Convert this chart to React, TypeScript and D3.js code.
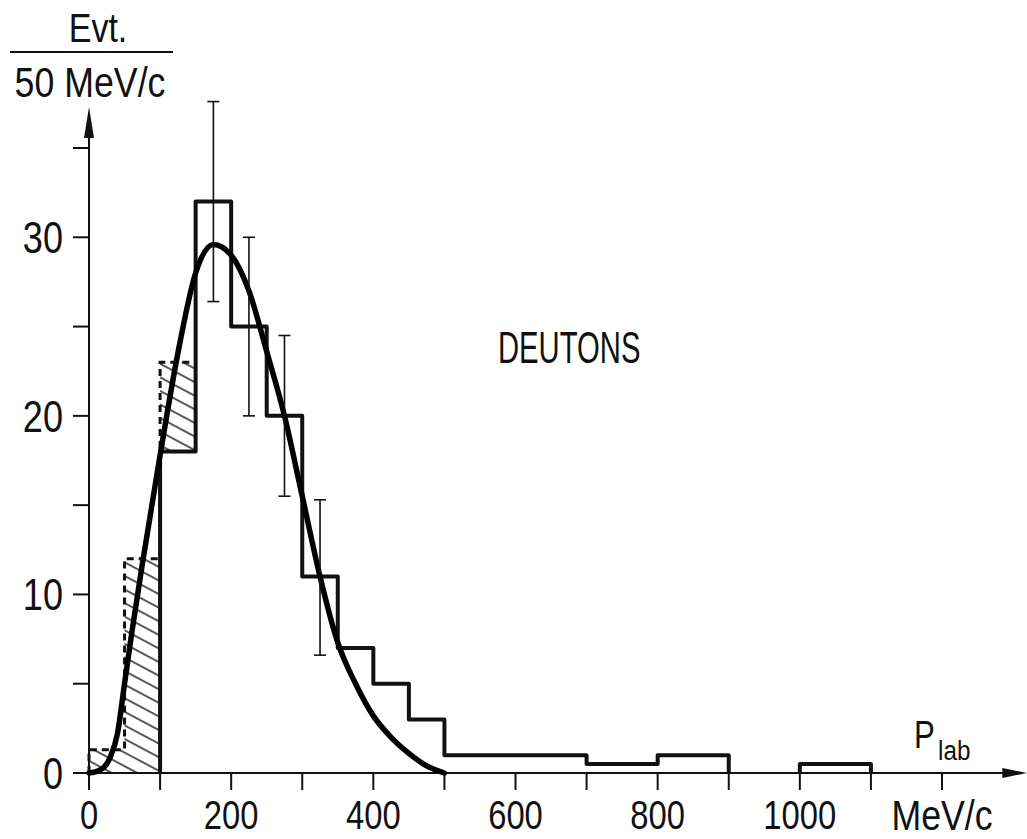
import * as d3 from 'd3'
import React from 'react'

// solid histogram (Evt. / 50 MeV/c)
const binLo = [100, 150, 200, 250, 300, 350, 400, 450, 500, 700, 800, 900, 1000]
const binHi = [150, 200, 250, 300, 350, 400, 450, 500, 700, 800, 900, 1000, 1100]
const evtCounts = [18, 32, 25, 20, 11, 7, 5, 3, 1, 0.5, 1, 0, 0.5]

// dashed (hatched) histogram
const dashLo = [0, 50, 100]
const dashHi = [50, 100, 150]
const dashCounts = [1.3, 12, 23]

// error bars
const errCenters = [175, 225, 275, 325]
const errLow = [26.4, 20, 15.5, 6.6]
const errHigh = [37.6, 30, 24.5, 15.3]

// fitted curve
const fitP = [0, 15, 30, 40, 50, 60, 75, 100, 125, 150, 175, 200, 225, 250, 275, 300, 325, 350, 375, 400, 425, 450, 475, 500]
const fitN = [0, 0.15, 0.9, 2.2, 5, 7.8, 11.7, 17.8, 23.5, 28, 29.6, 29, 27, 23.6, 20, 15.5, 11, 7.3, 5, 3.2, 2, 1.1, 0.4, 0]

const xTicks = [0, 100, 200, 300, 400, 500, 600, 700, 800, 900, 1000, 1100, 1200]
const xLabels = [0, 200, 400, 600, 800, 1000]
const yTicks = [0, 5, 10, 15, 20, 25, 30, 35]
const yLabels = [0, 10, 20, 30]

const FONT = "'Liberation Sans', Arial, sans-serif"

// narrow lettering, like the drafting stencil of the original
const Narrow = ({ x, y, size, sx = 0.8, anchor = 'start', children }:
  { x: number, y: number, size: number, sx?: number, anchor?: string, children: React.ReactNode }) =>
  <text transform={`translate(${x},${y}) scale(${sx},1)`} fontSize={size} textAnchor={anchor}>{children}</text>

export default function App() {
  const
    x = d3.scaleLinear().domain([0, 1200]).range([89, 942]),
    y = d3.scaleLinear().domain([0, 35]).range([773, 148]),
    xEnd = x(1320),
    yEnd = y(37.3)

  // solid histogram path, broken where bins are empty
  let histD = ''
  let open = false
  binLo.forEach((lo, i) => {
    const v = evtCounts[i]
    if (v > 0) {
      if (!open) { histD += `M${x(lo)},${y(0)}`; open = true }
      histD += `V${y(v)}H${x(binHi[i])}`
    } else if (open) {
      histD += `V${y(0)}`
      open = false
    }
  })
  if (open) histD += `V${y(0)}`

  let dashD = `M${x(dashLo[0])},${y(0)}`
  dashLo.forEach((lo, i) => { dashD += `V${y(dashCounts[i])}H${x(dashHi[i])}` })

  // hatched area = dashed minus solid
  const hatchD = dashLo.map((lo, i) => {
    const j = binLo.indexOf(lo)
    const base = j >= 0 ? evtCounts[j] : 0
    return `M${x(lo)},${y(base)}V${y(dashCounts[i])}H${x(dashHi[i])}V${y(base)}Z`
  }).join('')

  const fitLine = d3.line<number>()
    .x((_, i) => x(fitP[i]))
    .y(d => y(d))
    .curve(d3.curveMonotoneX)(fitN) as string

  return (
    <svg width={1027} height={839} style={{ position: 'absolute', left: 0, top: 0, display: 'block', background: '#fff' }}
      fontFamily={FONT}>
      <defs>
        <pattern id='hatch' patternUnits='userSpaceOnUse' width={12} height={12} patternTransform='rotate(28)'>
          <line x1={0} y1={6} x2={12} y2={6} stroke='#111' strokeWidth={1.4} />
        </pattern>
      </defs>

      <path d={hatchD} fill='url(#hatch)' />
      <path d={dashD} fill='none' stroke='#111' strokeWidth={3} strokeDasharray='7 5' />

      {/* axes */}
      <g stroke='#111' strokeWidth={2}>
        <line x1={x(0)} y1={y(0)} x2={xEnd - 20} y2={y(0)} />
        <line x1={x(0)} y1={y(0)} x2={x(0)} y2={yEnd + 26} />
        {xTicks.map(t => <line key={t} x1={x(t)} x2={x(t)} y1={y(0)} y2={y(0) + 17} />)}
        {yTicks.map(t => <line key={t} x1={x(0) - 16} x2={x(0)} y1={y(t)} y2={y(t)} />)}
      </g>
      <path d={`M${xEnd},${y(0)}L${xEnd - 25},${y(0) - 5}L${xEnd - 25},${y(0) + 5}Z`} fill='#111' />
      <path d={`M${x(0)},${yEnd}L${x(0) - 5},${yEnd + 31}L${x(0) + 5},${yEnd + 31}Z`} fill='#111' />

      {/* histogram */}
      <path d={histD} fill='none' stroke='#111' strokeWidth={4} strokeLinejoin='round' />

      {/* fit */}
      <path d={fitLine} fill='none' stroke='#000' strokeWidth={5.5} strokeLinecap='round' />

      {/* error bars */}
      <g stroke='#111' strokeWidth={1.6}>
        {errCenters.map((c, i) => (
          <g key={c}>
            <line x1={x(c)} x2={x(c)} y1={y(errLow[i])} y2={y(errHigh[i])} />
            <line x1={x(c) - 6} x2={x(c) + 6} y1={y(errLow[i])} y2={y(errLow[i])} />
            <line x1={x(c) - 6} x2={x(c) + 6} y1={y(errHigh[i])} y2={y(errHigh[i])} />
          </g>
        ))}
      </g>

      {/* tick labels */}
      <g fill='#111'>
        {xLabels.map(t => (
          <Narrow key={t} x={x(t)} y={829} size={40} sx={0.82} anchor='middle'>{t}</Narrow>
        ))}
        {yLabels.map(t => (
          <Narrow key={t} x={63} y={y(t) + 16} size={44} sx={0.82} anchor='end'>{t}</Narrow>
        ))}
        <Narrow x={x(1200)} y={830} size={42} sx={0.85} anchor='middle'>MeV/c</Narrow>
      </g>

      {/* axis titles */}
      <g fill='#111'>
        <Narrow x={98} y={42} size={40} sx={0.85} anchor='middle'>Evt.</Narrow>
        <line x1={10} x2={173} y1={52} y2={52} stroke='#111' strokeWidth={2} />
        <Narrow x={90} y={97} size={42} sx={0.85} anchor='middle'>50 MeV/c</Narrow>
        <Narrow x={914} y={748} size={39} sx={0.8}>P</Narrow>
        <Narrow x={938} y={760} size={27} sx={0.9}>lab</Narrow>
        <Narrow x={498} y={363} size={45} sx={0.65}>DEUTONS</Narrow>
      </g>
    </svg>
  )
}
